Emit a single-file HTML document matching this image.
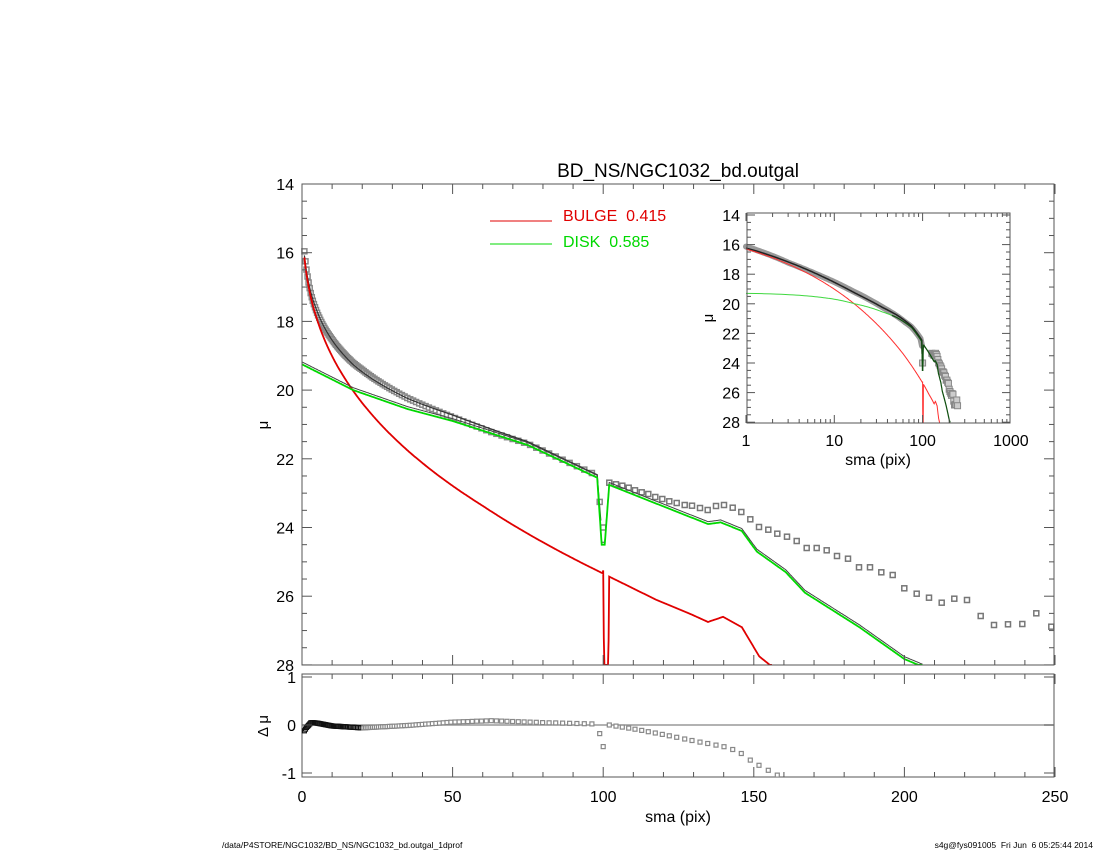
<!DOCTYPE html>
<html><head><meta charset="utf-8"><style>
html,body{margin:0;padding:0;background:#fff;}
svg{display:block;font-family:"Liberation Sans",sans-serif;}
</style></head><body>
<svg id="s" width="1100" height="850" viewBox="0 0 1100 850" xmlns="http://www.w3.org/2000/svg"></svg>
<script>
const S=document.getElementById('s');let h='';
const X=r=>302+r*3.012, Y=m=>184+(m-14)*34.35;
const ly=d=>725-d*48;
const IX=r=>746+Math.log10(r)*88.3, IY=m=>215+(m-14)*14.8;
function interp(pts,r){for(let i=0;i<pts.length-1;i++){if(r>=pts[i][0]&&r<=pts[i+1][0]){const t=(r-pts[i][0])/(pts[i+1][0]-pts[i][0]);return pts[i][1]+t*(pts[i+1][1]-pts[i][1]);}}return pts[pts.length-1][1];}
const bulgeOut=[[100,25.25],[100.3,28.2],[101.7,28.2],[102,25.43],[117.5,26.1],[128.5,26.5],[134.8,26.75],[139.8,26.6],[146,26.9],[151.8,27.75],[156,28.05]];
function bulge(r){if(r<=100)return 14.2+2.1*Math.pow(r,0.36)+(r>60?(r-60)*0.003:0);return interp(bulgeOut,r);}
const diskPts=[[0,19.25],[17,20.0],[35,20.55],[50,20.9],[75,21.6],[98,22.55],[99.5,24.5],[100.5,24.5],[102,22.76],[117.5,23.3],[134.8,23.9],[139,23.85],[146,24.1],[151,24.7],[160.6,25.3],[167,25.9],[185,26.9],[200,27.83],[206,28.05]];
const disk=r=>interp(diskPts,r);
const tot=r=>-2.5*Math.log10(Math.pow(10,-0.4*bulge(r))+Math.pow(10,-0.4*disk(r)));
const resPts=[[0.8,-0.12],[1.5,-0.05],[3,0.05],[5,0.04],[10,-0.02],[20,-0.06],[35,-0.01],[50,0.06],[63,0.09],[80,0.05],[98,0.02],[100,-0.45],[102,0.0],[110,-0.08],[120,-0.2],[130,-0.33],[140,-0.45],[145,-0.55],[148,-0.7],[152,-0.85],[155,-0.95],[158,-1.05]];
const res=r=>interp(resPts,r);
const outPx=[[58,68],[78,73],[97,77],[116,83],[135,91],[155,97],[175,102],[196,111],[217,117],[238,124],[260,129],[284,135],[306,137],[330,144],[353,150],[378,138],[402,135],[428,143],[454,156],[481,178],[507,201],[535,209],[562,221],[591,230],[620,243],[650,264],[680,264],[710,271],[741,288],[774,296],[807,322],[840,322],[874,337],[908,345],[943,385],[980,401],[1017,413],[1055,428],[1093,416],[1131,420],[1172,468],[1212,495],[1254,493],[1297,492],[1339,460],[1384,500]];
const dataOut=outPx.map(([px,py])=>[(590+px/3-302)/3.012,(460+py/3-184)/34.35+14]);
function data(r){if(r<100)return tot(r)+res(r);if(r<101)return 24.0;return interp(dataOut,r);}
const rs=[];let r=0.8;while(r<=100){rs.push(r);r+=Math.max(0.35,0.027*r);}
function line(fn,x0,x1,st,fx,fy,col,w,clipY){let p=[];for(let q=x0;q<=x1;q+=st){let m=fn(q);if(m>clipY)m=clipY;p.push(fx(q).toFixed(1)+','+fy(m).toFixed(1));}return `<polyline points="${p.join(' ')}" fill="none" stroke="${col}" stroke-width="${w}"/>`;}
h+=`<text x="678" y="177" font-size="19" text-anchor="middle">BD_NS/NGC1032_bd.outgal</text>`;
rs.concat([100]).forEach(q=>{const m=data(q);h+=`<rect x="${(X(q)-2.5).toFixed(1)}" y="${(Y(m)-2.5).toFixed(1)}" width="5" height="5" fill="#fff" stroke="#888" stroke-width="1.5"/>`;});
dataOut.forEach(([q,m])=>{h+=`<rect x="${(X(q)-2.5).toFixed(1)}" y="${(Y(m)-2.5).toFixed(1)}" width="5" height="5" fill="#fff" stroke="#777" stroke-width="1.5"/>`;});
h+=line(tot,0.8,99.6,0.4,X,Y,'#333',1.2,28);
h+=line(bulge,0.8,156,0.2,X,Y,'#e00000',1.8,28);
h+=line(r=>disk(r)-0.07,0,206,0.25,X,Y,'#444',1,28.05);
h+=line(disk,0,206,0.25,X,Y,'#00d800',1.8,28);
function frame(x0,y0,x1,y1){h+=`<rect x="${x0}" y="${y0}" width="${x1-x0}" height="${y1-y0}" fill="none" stroke="#555" stroke-width="1"/>`;}
h+=`<rect x="0" y="${Y(28)+0.5}" width="1100" height="9" fill="#fff"/>`;
frame(302,184,1054,665);
for(let v=0;v<=250;v+=10){const x=X(v),L=v%50==0?10:5;h+=`<line x1="${x}" y1="665" x2="${x}" y2="${665-L}" stroke="#555"/><line x1="${x}" y1="184" x2="${x}" y2="${184+L}" stroke="#555"/>`;}
for(let m=14;m<=28;m+=0.5){const y=Y(m),L=m%2==0?10:5;h+=`<line x1="302" y1="${y}" x2="${302+L}" y2="${y}" stroke="#555"/><line x1="1054" y1="${y}" x2="${1054-L}" y2="${y}" stroke="#555"/>`;if(m%2==0)h+=`<text x="294" y="${y+6}" font-size="16" text-anchor="end">${m}</text>`;}
h+=`<text x="268" y="425" font-size="15" text-anchor="middle" transform="rotate(-90 268 425)">μ</text>`;
h+=`<line x1="490" y1="221" x2="552" y2="221" stroke="#e00000"/><text x="563" y="221" font-size="16" fill="#e00000" xml:space="preserve">BULGE  0.415</text>`;
h+=`<line x1="490" y1="244" x2="552" y2="244" stroke="#00d800"/><text x="563" y="247" font-size="16" fill="#00d800" xml:space="preserve">DISK  0.585</text>`;
// inset
h+=`<rect x="747" y="213" width="263" height="210" fill="#fff"/>`;
let g=[];for(let q=1;q<=99;q*=1.04)g.push(IX(q).toFixed(1)+','+IY(data(q)).toFixed(1));
h+=`<polyline points="${g.join(' ')}" fill="none" stroke="#999" stroke-width="6" stroke-linecap="round"/>`;
dataOut.forEach(([q,m])=>{if(q>125&&m<27.2)h+=`<rect x="${IX(q)-3}" y="${IY(m)-3}" width="6" height="6" fill="#ccc" stroke="#888"/>`;});
h+=`<rect x="${IX(100)-3}" y="${IY(24)-3}" width="6" height="6" fill="#ccc" stroke="#888"/>`;
h+=line(tot,1,99,0.3,IX,IY,'#222',1.5,28);
h+=line(bulge,1,157,0.2,IX,IY,'#ff3030',1,28);
h+=line(disk,1,45,0.3,IX,IY,'#40d840',1,28);
h+=line(disk,45,206,0.2,IX,IY,'#105010',1.2,28);
frame(747,213,1010,423);
for(let d=0;d<3;d++)for(let k=1;k<=9;k++){const v=Math.pow(10,d)*k,x=IX(v),L=k==1?8:4;h+=`<line x1="${x}" y1="423" x2="${x}" y2="${423-L}" stroke="#555"/><line x1="${x}" y1="213" x2="${x}" y2="${213+L}" stroke="#555"/>`;}
[1,10,100,1000].forEach(v=>h+=`<text x="${IX(v)}" y="446" font-size="16" text-anchor="middle">${v}</text>`);
for(let m=14;m<=28;m+=0.5){const y=IY(m),L=m%2==0?8:4;h+=`<line x1="747" y1="${y}" x2="${747+L}" y2="${y}" stroke="#555"/><line x1="1010" y1="${y}" x2="${1010-L}" y2="${y}" stroke="#555"/>`;if(m%2==0)h+=`<text x="740" y="${y+6}" font-size="16" text-anchor="end">${m}</text>`;}
h+=`<text x="878" y="465" font-size="16" text-anchor="middle">sma (pix)</text>`;
h+=`<text x="713" y="318" font-size="15" text-anchor="middle" transform="rotate(-90 713 318)">μ</text>`;
// lower panel
frame(302,674,1054,777);
h+=`<line x1="302" y1="725" x2="1054" y2="725" stroke="#999" stroke-width="1.5"/>`;
rs.concat([100]).concat(dataOut.map(d=>d[0])).forEach(q=>{if(q>158.5)return;const d=res(q);h+=`<rect x="${(X(q)-2).toFixed(1)}" y="${(ly(d)-2).toFixed(1)}" width="4" height="4" fill="#fff" stroke="${q<20?'#111':'#888'}" stroke-width="1.2"/>`;});
for(let v=0;v<=250;v+=10){const x=X(v),L=v%50==0?10:5;h+=`<line x1="${x}" y1="777" x2="${x}" y2="${777-L}" stroke="#555"/><line x1="${x}" y1="674" x2="${x}" y2="${674+L}" stroke="#555"/>`;if(v%50==0)h+=`<text x="${x}" y="802" font-size="16" text-anchor="middle">${v}</text>`;}
[[1,'1'],[0,'0'],[-1,'-1']].forEach(([v,t])=>{const y=ly(v);h+=`<line x1="302" y1="${y}" x2="312" y2="${y}" stroke="#555"/><line x1="1054" y1="${y}" x2="1044" y2="${y}" stroke="#555"/><text x="296" y="${y+6}" font-size="16" text-anchor="end">${t}</text>`;});
h+=`<text x="678" y="822" font-size="16" text-anchor="middle">sma (pix)</text>`;
h+=`<text x="268" y="726" font-size="15" text-anchor="middle" transform="rotate(-90 268 726)">Δ μ</text>`;
h+=`<text x="222" y="848" font-size="8.5">/data/P4STORE/NGC1032/BD_NS/NGC1032_bd.outgal_1dprof</text>`;
h+=`<text x="1093" y="848" font-size="8.5" text-anchor="end" xml:space="preserve">s4g@fys091005  Fri Jun  6 05:25:44 2014</text>`;
S.innerHTML=h;
</script>
</body></html>
